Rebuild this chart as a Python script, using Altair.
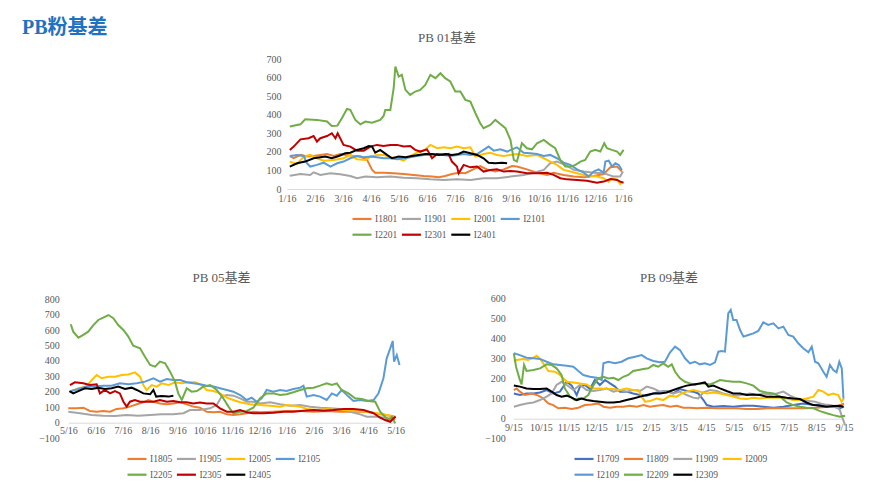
import altair as alt
import pandas as pd

# ---------------- PB 01 basis (x = months after the first tick) ----------------
P01_TICKS = ["1/16", "2/16", "3/16", "4/16", "5/16", "6/16", "7/16", "8/16",
             "9/16", "10/16", "11/16", "12/16", "1/16"]
P01_SERIES = ["I1801", "I1901", "I2001", "I2101", "I2201", "I2301", "I2401"]
P01_COLORS = ["#ED7D31", "#A5A5A5", "#FFC000", "#5B9BD5", "#70AD47", "#C00000", "#000000"]
P01_YTICKS = [0, 100, 200, 300, 400, 500, 600, 700]

I1801 = [(0.1, 178), (0.24, 166), (0.48, 184), (0.71, 175), (0.95, 178), (1.19, 184), (1.43, 189),
         (1.67, 178), (1.9, 189), (2.14, 184), (2.38, 178), (2.62, 175), (2.86, 157), (3.04, 103),
         (3.15, 88), (3.45, 88), (3.81, 85), (4.17, 81), (4.52, 76), (4.88, 70), (5.18, 67), (5.42, 63),
         (5.65, 70), (5.89, 81), (6.13, 88), (6.37, 85), (6.61, 103), (6.9, 124), (7.14, 106), (7.44, 94),
         (7.74, 106), (8.04, 124), (8.21, 121), (8.57, 106), (8.93, 88), (9.29, 76), (9.52, 88),
         (9.88, 76), (10.24, 67), (10.6, 63), (10.95, 70), (11.31, 81), (11.55, 117), (11.79, 121),
         (11.96, 94)]
I1901 = [(0.1, 72), (0.48, 81), (0.83, 76), (0.95, 90), (1.19, 76), (1.55, 85), (1.9, 79), (2.26, 70),
         (2.5, 58), (2.8, 67), (3.21, 63), (3.69, 67), (4.17, 61), (4.64, 58), (5.12, 52), (5.6, 49),
         (6.07, 52), (6.55, 49), (7.02, 58), (7.5, 58), (7.98, 67), (8.45, 76), (8.81, 88), (9.17, 103),
         (9.4, 139), (9.64, 148), (9.94, 130), (10.24, 103), (10.6, 94), (10.95, 88), (11.31, 85),
         (11.67, 67), (11.9, 67), (12.0, 94)]
I2001 = [(0.1, 148), (0.36, 135), (0.6, 175), (0.83, 184), (1.07, 166), (1.31, 153), (1.67, 157),
         (2.02, 166), (2.26, 184), (2.5, 160), (2.8, 157), (2.98, 175), (3.21, 184), (3.45, 184),
         (3.69, 171), (3.93, 166), (4.17, 153), (4.4, 178), (4.64, 196), (4.88, 207), (5.12, 238),
         (5.36, 220), (5.6, 225), (5.83, 220), (6.07, 229), (6.31, 220), (6.55, 225), (6.73, 175),
         (7.02, 189), (7.26, 196), (7.5, 184), (7.74, 178), (7.98, 184), (8.21, 189), (8.57, 178),
         (8.93, 184), (9.17, 166), (9.4, 148), (9.64, 130), (9.88, 103), (10.12, 94), (10.36, 85),
         (10.6, 76), (10.83, 70), (11.07, 67), (11.31, 58), (11.49, 40), (11.6, 58), (11.79, 52),
         (11.9, 27), (11.96, 40)]
I2101 = [(0.1, 178), (0.36, 184), (0.6, 178), (0.71, 139), (0.83, 121), (1.07, 130), (1.31, 142),
         (1.55, 121), (1.79, 139), (2.02, 148), (2.26, 166), (2.5, 178), (2.74, 171), (2.98, 175),
         (3.21, 171), (3.45, 166), (3.69, 166), (3.93, 160), (4.17, 166), (4.4, 171), (4.64, 178),
         (4.88, 184), (5.12, 184), (5.36, 189), (5.6, 184), (5.83, 178), (6.07, 184), (6.31, 189),
         (6.55, 184), (6.79, 189), (7.02, 211), (7.2, 229), (7.38, 207), (7.62, 214), (7.86, 202),
         (8.04, 214), (8.21, 225), (8.45, 196), (8.69, 193), (8.93, 189), (9.17, 178), (9.4, 184),
         (9.64, 166), (9.88, 142), (10.12, 130), (10.36, 106), (10.6, 88), (10.77, 67), (10.95, 94),
         (11.13, 106), (11.31, 88), (11.37, 148), (11.49, 153), (11.61, 121), (11.73, 139),
         (11.85, 130), (11.96, 103)]
I2201 = [(0.1, 337), (0.48, 349), (0.65, 376), (1.07, 373), (1.43, 364), (1.6, 340), (1.8, 342),
         (1.96, 382), (2.14, 432), (2.26, 427), (2.44, 373), (2.62, 349), (2.8, 364), (3.04, 358),
         (3.33, 373), (3.45, 394), (3.51, 427), (3.69, 427), (3.81, 544), (3.87, 661), (3.99, 607),
         (4.1, 616), (4.23, 535), (4.4, 508), (4.58, 526), (4.76, 535), (4.94, 562), (5.12, 616),
         (5.3, 598), (5.48, 625), (5.65, 598), (5.83, 580), (6.01, 526), (6.19, 526), (6.37, 481),
         (6.55, 472), (6.73, 409), (6.9, 355), (7.02, 328), (7.26, 346), (7.44, 373), (7.62, 351),
         (7.8, 328), (7.98, 265), (8.1, 157), (8.21, 148), (8.39, 247), (8.57, 220), (8.75, 214),
         (8.93, 247), (9.17, 265), (9.4, 238), (9.58, 220), (9.76, 157), (9.94, 121), (10.12, 121),
         (10.3, 130), (10.48, 148), (10.65, 157), (10.83, 202), (11.01, 211), (11.19, 202),
         (11.33, 247), (11.43, 220), (11.6, 211), (11.79, 202), (11.9, 184), (12.02, 211)]
I2301 = [(0.1, 211), (0.24, 229), (0.48, 268), (0.77, 274), (0.95, 286), (1.07, 256), (1.19, 274),
         (1.43, 286), (1.6, 301), (1.73, 274), (1.81, 301), (2.02, 238), (2.26, 229), (2.5, 207),
         (2.74, 207), (2.98, 229), (3.21, 238), (3.45, 232), (3.69, 238), (3.93, 238), (4.17, 229),
         (4.4, 232), (4.58, 211), (4.76, 202), (5.0, 214), (5.18, 166), (5.36, 189), (5.6, 184),
         (5.77, 189), (5.89, 148), (6.07, 121), (6.13, 85), (6.31, 130), (6.55, 117), (6.79, 121),
         (7.02, 94), (7.26, 103), (7.5, 106), (7.74, 94), (7.98, 97), (8.21, 94), (8.57, 85),
         (8.93, 85), (9.29, 88), (9.52, 76), (9.76, 58), (10.0, 52), (10.36, 49), (10.71, 45),
         (11.07, 34), (11.31, 40), (11.55, 54), (11.79, 49), (11.9, 40), (12.02, 34)]
I2401 = [(0.1, 121), (0.36, 139), (0.65, 148), (0.95, 166), (1.19, 171), (1.37, 175), (1.6, 166),
         (1.85, 178), (2.08, 193), (2.26, 196), (2.5, 211), (2.74, 220), (2.92, 232), (3.04, 229),
         (3.15, 196), (3.33, 211), (3.57, 184), (3.75, 166), (3.99, 175), (4.23, 171), (4.46, 178),
         (4.7, 184), (4.94, 189), (5.18, 189), (5.42, 184), (5.65, 189), (5.89, 184), (6.13, 189),
         (6.31, 202), (6.55, 193), (6.79, 184), (7.02, 166), (7.2, 142), (7.44, 139), (7.68, 142),
         (7.86, 139)]

# ---------------- PB 05 basis ----------------
P05_TICKS = ["5/16", "6/16", "7/16", "8/16", "9/16", "10/16", "11/16", "12/16",
             "1/16", "2/16", "3/16", "4/16", "5/16"]
P05_SERIES = ["I1805", "I1905", "I2005", "I2105", "I2205", "I2305", "I2405"]
P05_COLORS = ["#ED7D31", "#A5A5A5", "#FFC000", "#5B9BD5", "#70AD47", "#C00000", "#000000"]
P05_YTICKS = [-100, 0, 100, 200, 300, 400, 500, 600, 700, 800]

I1805 = [(0, 93), (0.31, 93), (0.55, 97), (0.79, 76), (1.04, 71), (1.28, 76), (1.53, 71), (1.77, 89),
         (2.02, 93), (2.26, 104), (2.51, 119), (2.75, 132), (2.93, 147), (3.12, 136), (3.36, 125),
         (3.61, 119), (3.85, 125), (4.1, 132), (4.34, 119), (4.58, 104), (4.83, 97), (5.07, 71),
         (5.32, 67), (5.56, 71), (5.81, 54), (6.05, 50), (6.3, 54), (6.54, 61), (6.78, 71), (7.03, 67),
         (7.52, 71), (8.0, 76), (8.5, 76), (8.99, 71), (9.47, 76), (9.96, 71), (10.45, 71), (10.94, 71),
         (11.43, 54), (11.8, 45), (11.98, 39)]
I1905 = [(0, 71), (0.43, 61), (0.86, 50), (1.28, 45), (1.71, 43), (2.14, 50), (2.57, 45), (3.0, 50),
         (3.42, 54), (3.85, 54), (4.22, 61), (4.46, 82), (4.83, 82), (5.2, 93), (5.44, 115), (5.62, 169),
         (5.81, 179), (6.05, 175), (6.3, 158), (6.54, 136), (6.78, 136), (7.03, 125), (7.4, 132),
         (7.76, 119), (8.13, 110), (8.5, 115), (8.86, 104), (9.23, 97), (9.6, 93), (9.96, 89),
         (10.33, 71), (10.7, 54), (10.94, 39), (11.31, 39), (11.61, 32), (11.86, 24), (11.98, 17)]
I2005 = [(0.09, 201), (0.37, 223), (0.67, 234), (0.86, 277), (1.04, 309), (1.22, 288), (1.47, 298),
         (1.71, 298), (1.96, 309), (2.2, 313), (2.44, 326), (2.63, 298), (2.75, 244), (2.87, 212),
         (3.06, 244), (3.24, 234), (3.42, 255), (3.67, 244), (3.91, 262), (4.16, 255), (4.4, 262),
         (4.65, 262), (4.89, 244), (5.07, 212), (5.32, 205), (5.56, 190), (5.81, 162), (6.05, 147),
         (6.3, 132), (6.66, 119), (7.03, 115), (7.4, 110), (7.76, 104), (8.0, 115), (8.25, 110),
         (8.5, 104), (8.74, 89), (9.11, 82), (9.47, 89), (9.84, 82), (10.2, 82), (10.57, 76),
         (10.94, 71), (11.31, 61), (11.55, 54), (11.8, 45), (11.98, 32)]
I2105 = [(0.09, 205), (0.37, 218), (0.67, 234), (0.98, 234), (1.28, 240), (1.59, 240), (1.89, 255),
         (2.2, 249), (2.51, 255), (2.81, 266), (3.12, 288), (3.36, 266), (3.61, 283), (3.85, 277),
         (4.1, 277), (4.34, 262), (4.58, 255), (4.83, 249), (5.07, 240), (5.32, 234), (5.56, 223),
         (5.81, 212), (6.05, 201), (6.3, 179), (6.54, 147), (6.72, 162), (6.91, 136), (7.09, 158),
         (7.27, 212), (7.52, 201), (7.76, 212), (8.0, 205), (8.25, 218), (8.5, 227), (8.62, 240),
         (8.74, 169), (8.99, 179), (9.23, 169), (9.47, 147), (9.66, 190), (9.84, 175), (10.02, 212),
         (10.27, 169), (10.45, 141), (10.7, 147), (10.94, 141), (11.19, 147), (11.37, 190),
         (11.55, 288), (11.67, 417), (11.8, 482), (11.89, 530), (11.94, 396), (12.04, 439),
         (12.14, 374)]
I2205 = [(0.09, 638), (0.18, 590), (0.37, 551), (0.55, 569), (0.73, 590), (0.92, 633), (1.1, 666),
         (1.28, 681), (1.47, 698), (1.65, 677), (1.83, 633), (2.02, 601), (2.2, 558), (2.38, 499),
         (2.63, 482), (2.81, 428), (3.0, 374), (3.18, 363), (3.36, 396), (3.55, 385), (3.73, 331),
         (3.91, 266), (4.03, 190), (4.16, 147), (4.34, 223), (4.52, 201), (4.71, 205), (4.95, 234),
         (5.2, 244), (5.44, 212), (5.68, 158), (5.87, 104), (6.05, 61), (6.3, 71), (6.54, 76),
         (6.78, 97), (7.03, 158), (7.27, 190), (7.52, 190), (7.76, 179), (8.0, 184), (8.25, 197),
         (8.5, 212), (8.74, 223), (8.99, 227), (9.23, 240), (9.47, 255), (9.66, 244), (9.84, 255),
         (10.02, 212), (10.27, 190), (10.51, 158), (10.76, 153), (11.0, 141), (11.25, 136),
         (11.43, 71), (11.61, 39), (11.74, 17), (11.86, 39), (11.98, -4)]
I2305 = [(0.06, 244), (0.24, 262), (0.55, 255), (0.79, 244), (1.04, 249), (1.16, 190), (1.34, 212),
         (1.53, 190), (1.71, 205), (1.89, 190), (2.02, 136), (2.14, 104), (2.26, 136), (2.44, 147),
         (2.63, 136), (2.87, 136), (3.12, 136), (3.36, 147), (3.61, 136), (3.85, 141), (4.1, 132),
         (4.34, 132), (4.58, 125), (4.83, 130), (5.07, 125), (5.32, 125), (5.56, 93), (5.81, 71),
         (6.05, 71), (6.3, 82), (6.54, 67), (6.78, 61), (7.15, 61), (7.52, 65), (7.89, 71), (8.25, 71),
         (8.62, 78), (8.99, 82), (9.35, 78), (9.72, 82), (10.09, 89), (10.45, 89), (10.82, 82),
         (11.19, 61), (11.43, 32), (11.61, 17), (11.8, 6), (11.92, 28), (12.0, 39)]
I2405 = [(0.04, 205), (0.18, 190), (0.37, 205), (0.61, 223), (0.86, 218), (1.1, 227), (1.34, 218),
         (1.59, 223), (1.83, 234), (2.08, 218), (2.32, 227), (2.51, 212), (2.75, 190), (3.0, 184),
         (3.12, 212), (3.22, 169), (3.42, 173), (3.67, 169), (3.85, 175)]

# ---------------- PB 09 basis ----------------
P09_TICKS = ["9/15", "10/15", "11/15", "12/15", "1/15", "2/15", "3/15", "4/15",
             "5/15", "6/15", "7/15", "8/15", "9/15"]
P09_SERIES = ["I1709", "I1809", "I1909", "I2009", "I2109", "I2209", "I2309"]
P09_COLORS = ["#4472C4", "#ED7D31", "#A5A5A5", "#FFC000", "#5B9BD5", "#70AD47", "#000000"]
P09_YTICKS = [-100, 0, 100, 200, 300, 400, 500, 600]

I1709 = [(0.02, 126), (0.24, 118), (0.48, 126), (0.73, 126), (0.97, 131), (1.21, 143), (1.45, 126),
         (1.69, 135), (1.94, 184), (2.12, 165), (2.3, 118), (2.42, 160), (2.6, 168), (2.78, 148),
         (2.96, 193), (3.14, 168), (3.33, 193), (3.51, 176), (3.69, 160), (3.87, 135), (4.11, 135),
         (4.35, 126), (4.6, 118), (4.84, 115), (5.08, 126), (5.32, 135), (5.56, 138), (5.81, 126),
         (6.05, 148), (6.29, 138), (6.53, 135), (6.71, 126), (6.9, 93), (7.02, 68), (7.26, 60),
         (7.62, 63), (7.98, 60), (8.35, 65), (8.71, 65), (9.07, 60), (9.44, 55), (9.8, 60), (10.16, 68),
         (10.52, 76), (10.89, 68), (11.25, 71), (11.61, 60), (11.85, 52), (12.0, 60)]
I1809 = [(0.02, 143), (0.12, 151), (0.24, 135), (0.42, 118), (0.67, 126), (0.91, 115), (1.09, 101),
         (1.27, 76), (1.45, 68), (1.63, 52), (1.87, 55), (2.12, 48), (2.36, 55), (2.6, 68), (2.84, 71),
         (3.08, 76), (3.27, 60), (3.51, 55), (3.75, 60), (3.99, 60), (4.23, 65), (4.48, 60), (4.72, 68),
         (4.96, 60), (5.2, 65), (5.44, 68), (5.69, 60), (5.93, 65), (6.17, 55), (6.41, 55), (6.65, 52),
         (7.02, 55), (7.38, 52), (7.74, 52), (8.1, 52), (8.47, 48), (8.83, 48), (9.19, 52), (9.56, 52),
         (9.92, 52), (10.28, 52), (10.64, 52), (11.01, 55), (11.37, 60), (11.73, 60), (12.0, 76)]
I1909 = [(0.02, 60), (0.24, 68), (0.48, 76), (0.73, 81), (0.97, 93), (1.21, 110), (1.39, 126),
         (1.57, 168), (1.75, 184), (1.94, 168), (2.18, 143), (2.42, 168), (2.66, 143), (2.9, 138),
         (3.14, 143), (3.39, 151), (3.63, 135), (3.87, 143), (4.11, 135), (4.35, 143), (4.6, 138),
         (4.84, 160), (5.08, 151), (5.32, 135), (5.56, 138), (5.81, 126), (6.05, 135), (6.29, 118),
         (6.53, 105), (6.71, 101), (6.9, 131), (7.14, 143), (7.38, 138), (7.62, 126), (7.86, 118),
         (8.1, 115), (8.35, 121), (8.59, 126), (8.83, 118), (9.07, 126), (9.31, 121), (9.56, 126),
         (9.8, 135), (10.04, 115), (10.28, 101), (10.52, 93), (10.76, 88), (10.95, 85), (11.25, 71),
         (11.49, 68), (11.73, 60), (11.85, 43), (11.95, 2), (12.04, -32)]
I2009 = [(0.02, 284), (0.12, 293), (0.36, 298), (0.54, 293), (0.73, 304), (0.85, 314), (0.97, 298),
         (1.09, 276), (1.27, 238), (1.51, 234), (1.69, 218), (1.94, 184), (2.18, 181), (2.42, 176),
         (2.66, 171), (2.9, 151), (3.14, 151), (3.39, 148), (3.63, 148), (3.87, 143), (4.11, 151),
         (4.35, 143), (4.54, 143), (4.66, 110), (4.78, 85), (4.96, 88), (5.2, 101), (5.44, 93),
         (5.69, 115), (5.93, 110), (6.11, 126), (6.29, 135), (6.53, 143), (6.77, 135), (7.02, 126),
         (7.26, 131), (7.5, 126), (7.74, 118), (7.98, 110), (8.23, 101), (8.47, 98), (8.71, 105),
         (8.95, 101), (9.19, 105), (9.44, 105), (9.68, 105), (9.92, 101), (10.16, 93), (10.4, 93),
         (10.64, 101), (10.89, 110), (11.07, 143), (11.25, 135), (11.43, 118), (11.61, 126),
         (11.79, 118), (11.91, 85), (12.0, 101)]
I2109 = [(0.02, 326), (0.24, 317), (0.48, 304), (0.73, 301), (0.97, 298), (1.21, 284), (1.45, 271),
         (1.69, 268), (1.94, 264), (2.18, 259), (2.36, 238), (2.54, 218), (2.78, 209), (3.02, 204),
         (3.21, 193), (3.27, 276), (3.45, 284), (3.69, 276), (3.93, 284), (4.17, 301), (4.42, 309),
         (4.66, 317), (4.84, 301), (5.08, 288), (5.32, 281), (5.5, 284), (5.69, 331), (5.87, 359),
         (6.05, 342), (6.23, 301), (6.41, 276), (6.59, 284), (6.77, 271), (6.95, 276), (7.14, 268),
         (7.32, 281), (7.44, 334), (7.56, 337), (7.68, 334), (7.8, 525), (7.89, 542), (7.98, 492),
         (8.1, 492), (8.23, 442), (8.35, 409), (8.53, 417), (8.71, 425), (8.89, 437), (9.07, 480),
         (9.25, 467), (9.44, 475), (9.62, 450), (9.8, 459), (9.98, 417), (10.16, 409), (10.34, 376),
         (10.52, 351), (10.71, 331), (10.83, 359), (10.95, 284), (11.07, 276), (11.25, 234),
         (11.37, 209), (11.49, 268), (11.61, 243), (11.73, 231), (11.83, 284), (11.92, 251),
         (11.98, 101)]
I2209 = [(0.02, 326), (0.1, 259), (0.22, 201), (0.3, 171), (0.39, 268), (0.48, 238), (0.73, 243),
         (0.97, 251), (1.21, 271), (1.39, 268), (1.57, 251), (1.75, 218), (1.87, 151), (2.06, 110),
         (2.24, 93), (2.36, 101), (2.54, 101), (2.72, 118), (2.9, 165), (3.08, 201), (3.27, 209),
         (3.45, 201), (3.63, 204), (3.81, 193), (3.99, 209), (4.17, 218), (4.35, 238), (4.54, 243),
         (4.72, 248), (4.9, 251), (5.08, 268), (5.26, 259), (5.44, 276), (5.62, 259), (5.75, 271),
         (5.87, 234), (6.05, 201), (6.23, 184), (6.41, 176), (6.59, 168), (6.77, 176), (6.95, 176),
         (7.14, 171), (7.32, 181), (7.5, 193), (7.74, 188), (7.98, 184), (8.23, 184), (8.47, 176),
         (8.71, 165), (8.95, 138), (9.19, 131), (9.44, 126), (9.68, 110), (9.92, 81), (10.16, 68),
         (10.4, 60), (10.64, 55), (10.89, 52), (11.13, 38), (11.37, 27), (11.61, 18), (11.85, 10),
         (12.04, 15)]
I2309 = [(0.02, 165), (0.24, 160), (0.48, 151), (0.73, 148), (0.97, 148), (1.21, 151), (1.39, 135),
         (1.57, 118), (1.75, 110), (1.94, 115), (2.12, 105), (2.3, 93), (2.48, 101), (2.66, 93),
         (2.9, 88), (3.14, 85), (3.39, 81), (3.63, 81), (3.87, 85), (4.11, 93), (4.35, 101), (4.6, 110),
         (4.84, 118), (5.08, 126), (5.32, 126), (5.56, 131), (5.81, 143), (6.05, 155), (6.29, 165),
         (6.53, 171), (6.77, 176), (6.95, 181), (7.08, 160), (7.26, 165), (7.5, 151), (7.74, 138),
         (7.98, 126), (8.23, 126), (8.47, 118), (8.71, 121), (8.95, 118), (9.19, 110), (9.44, 110),
         (9.68, 110), (9.92, 105), (10.16, 101), (10.4, 98), (10.64, 81), (10.89, 68), (11.13, 65),
         (11.37, 60), (11.61, 63), (11.85, 65), (11.98, 60)]

MAIN_TITLE = "PB粉基差"
PANEL_TITLES = ["PB 01基差", "PB 05基差", "PB 09基差"]

LABEL_FONT = "Liberation Serif"
TITLE_FONT = "Liberation Serif, Noto Sans CJK SC"
TEXT_GREY = "#595959"
W, H = 864, 477


def frame(names, series):
    rows = []
    for name, pts in zip(names, series):
        for k, (m, v) in enumerate(pts):
            rows.append({"series": name, "m": m, "v": v, "i": k})
    return pd.DataFrame(rows)


def panel(names, series, colors, ticks, ydomain, yticks, xr, yr, zero_y,
          ylab_pad, xlab_pad, legend_x, legend_y):
    expr = "[" + ",".join("'%s'" % t for t in ticks) + "][datum.value]"
    x = alt.X("m:Q",
              scale=alt.Scale(domain=[0, 12], range=xr, zero=False, nice=False),
              axis=alt.Axis(orient="bottom", offset=zero_y - H, values=list(range(13)),
                            labelExpr=expr, domain=True, domainColor="#D9D9D9",
                            domainWidth=1, ticks=False, tickSize=0, grid=False,
                            labelPadding=xlab_pad, labelFont=LABEL_FONT, labelFontSize=10,
                            labelColor=TEXT_GREY, labelFlush=False, labelOverlap=False,
                            title=None))
    y = alt.Y("v:Q",
              scale=alt.Scale(domain=ydomain, range=yr, zero=False, nice=False),
              axis=alt.Axis(orient="left", offset=-xr[0], values=yticks, domain=False,
                            ticks=False, tickSize=0, grid=False, labelPadding=ylab_pad,
                            labelFont=LABEL_FONT, labelFontSize=10, labelColor=TEXT_GREY,
                            labelFlush=False, labelOverlap=False, title=None))
    color = alt.Color("series:N",
                      scale=alt.Scale(domain=names, range=colors),
                      legend=alt.Legend(orient="none", legendX=legend_x, legendY=legend_y,
                                        columns=4, direction="horizontal", title=None,
                                        symbolType="stroke", symbolSize=361,
                                        symbolStrokeWidth=2.2, labelOffset=2,
                                        columnPadding=-0.6, rowPadding=-0.4, padding=0,
                                        labelFont=LABEL_FONT, labelFontSize=9.5,
                                        labelColor=TEXT_GREY))
    return alt.Chart(frame(names, series)).mark_line(strokeWidth=2).encode(
        x=x, y=y, color=color, order="i:Q")


def label(text, x, y, size, color, align="center", baseline="middle", weight="normal"):
    return alt.Chart(pd.DataFrame({"t": [text]})).mark_text(
        font=TITLE_FONT, fontSize=size, color=color, align=align, baseline=baseline,
        fontWeight=weight).encode(text="t:N", x=alt.value(x), y=alt.value(y))


p01 = panel(P01_SERIES, [I1801, I1901, I2001, I2101, I2201, I2301, I2401], P01_COLORS,
            P01_TICKS, [0, 700], P01_YTICKS, [279, 615], [181, 51.3], 181,
            6, 4, 343, 199.7)
p05 = panel(P05_SERIES, [I1805, I1905, I2005, I2105, I2205, I2305, I2405], P05_COLORS,
            P05_TICKS, [-100, 800], P05_YTICKS, [60.3, 387.7], [430.1, 291.3], 414.7,
            9, 3, 118, 439.7)
p09 = panel(P09_SERIES, [I1709, I1809, I1909, I2009, I2109, I2209, I2309], P09_COLORS,
            P09_TICKS, [-100, 600], P09_YTICKS, [505.3, 836], [430.8, 290.3], 410.7,
            8, 4, 565, 439.7)

t01 = label(PANEL_TITLES[0], 439, 30, 13, TEXT_GREY)
t05 = label(PANEL_TITLES[1], 213.5, 270, 13, TEXT_GREY)
t09 = label(PANEL_TITLES[2], 661, 270, 13, TEXT_GREY)
tmain = label(MAIN_TITLE, 14, 26, 20, "#1F72C2", align="left", baseline="alphabetic",
              weight="bold")

chart = alt.layer(p01, p05, p09, t01, t05, t09, tmain).resolve_scale(
    x="independent", y="independent", color="independent"
).resolve_axis(x="independent", y="independent").resolve_legend(color="independent").properties(
    width=W, height=H, padding=0, autosize=alt.AutoSizeParams(type="none")
).configure_view(stroke=None)

chart.save("out.html", embed_options={"renderer": "svg", "actions": False})
